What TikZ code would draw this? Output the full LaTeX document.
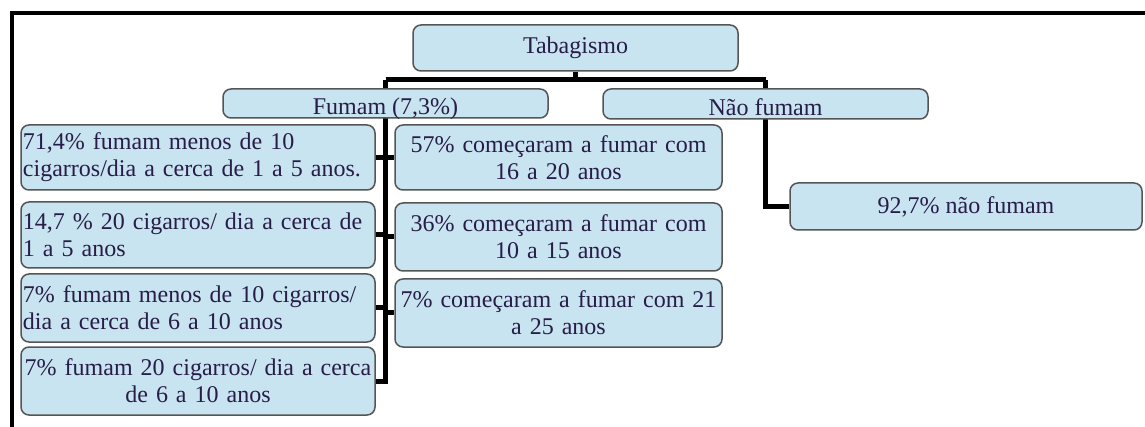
\documentclass[tikz,border=0pt]{standalone}
\usepackage{fontspec}
\setmainfont{Liberation Serif}
\usetikzlibrary{backgrounds}
\definecolor{boxblue}{RGB}{200,228,240}
\definecolor{boxline}{RGB}{85,85,85}
\definecolor{txt}{RGB}{40,28,72}
\tikzset{
  box/.style={draw=boxline, line width=1.5pt, fill=boxblue, rounded corners=8pt,
    text=txt, font=\fontsize{24}{27}\selectfont, inner xsep=2pt, inner ysep=0pt},
  lbox/.style={box, text width=350pt, minimum height=66pt},
  rbox/.style={box, text width=323pt, minimum height=67pt, align=center},
  conn/.style={line width=5pt, black},
  frame/.style={line width=4pt, black}
}
\begin{document}
\hyphenpenalty=10000
\begin{tikzpicture}[x=1pt, y=-1pt]
\useasboundingbox (0,0) rectangle (1145,427);
\draw[frame] (12,427) -- (12,13) -- (1145,13);

\node[box, minimum width=325pt, minimum height=46pt] (tab) at (575.5,48) {Tabagismo};
\node[box, minimum width=325pt, minimum height=29pt, text height=23pt, text depth=0pt] (fum) at (385.5,103.5) {Fumam (7,3\%)};
\node[box, minimum width=325pt, minimum height=30pt, text height=23pt, text depth=0pt] (nao) at (765.5,104) {Não fumam};
\node[box, minimum width=352pt, minimum height=47pt] (n927) at (966,206.5) {92,7\% não fumam};

\node[lbox, align=left, minimum height=65pt] (L1) at (198,157.5) {71,4\% fumam menos de 10\\cigarros/dia a cerca de 1 a 5 anos.};
\node[lbox, align=left] (L2) at (198,235) {14,7 \% 20 cigarros/ dia a cerca de\\1 a 5 anos};
\node[lbox, align=left, minimum height=68pt] (L3) at (198,308) {7\% fumam menos de 10 cigarros/\\dia a cerca de 6 a 10 anos};
\node[lbox, align=center, minimum height=68pt] (L4) at (198,381) {7\% fumam 20 cigarros/ dia a cerca\\de 6 a 10 anos};

\node[rbox, minimum height=65pt] (R1) at (558.5,157.5) {57\% começaram a fumar com\\16 a 20 anos};
\node[rbox, minimum height=68pt] (R2) at (558.5,237) {36\% começaram a fumar com\\10 a 15 anos};
\node[rbox, minimum height=68pt] (R3) at (558.5,313) {7\% começaram a fumar com 21\\a 25 anos};

\coordinate (bar) at (0,80);
\begin{pgfonlayer}{background}
\draw[conn] (tab.south) -- (tab.south |- bar);
\draw[conn] (fum.center |- bar) -- (nao.center |- bar);
\draw[conn] (fum.center |- bar) -- (fum.center |- L4.east) -- (L4.east);
\draw[conn] (fum.center |- L1.east) -- (L1.east);
\draw[conn] (fum.center |- L2.east) -- (L2.east);
\draw[conn] (fum.center |- L3.east) -- (L3.east);
\draw[conn] (fum.center |- R1.west) -- (R1.west);
\draw[conn] (fum.center |- R2.west) -- (R2.west);
\draw[conn] (fum.center |- R3.west) -- (R3.west);
\draw[conn] (nao.center |- bar) -- (nao.center |- n927.west) -- (n927.west);
\end{pgfonlayer}
\end{tikzpicture}
\end{document}
